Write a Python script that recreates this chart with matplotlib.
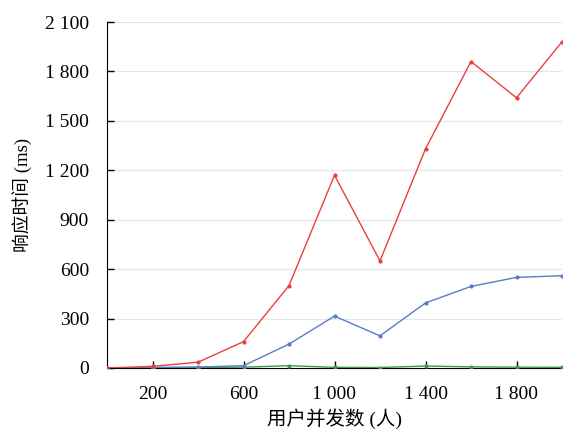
import matplotlib
matplotlib.use("Agg")
import matplotlib.pyplot as plt
from matplotlib.ticker import FuncFormatter

plt.rcParams['font.family'] = ['Liberation Serif', 'Noto Sans CJK SC']

users = [0, 200, 400, 600, 800, 1000, 1200, 1400, 1600, 1800, 2000]
red_ms = [0, 10, 35, 160, 500, 1170, 650, 1330, 1860, 1640, 1980]
blue_ms = [0, 3, 6, 14, 145, 315, 195, 395, 495, 550, 560]
green_ms = [0, 2, 3, 5, 14, 4, 3, 12, 7, 5, 4]

x_ticks = [200, 600, 1000, 1400, 1800]
y_ticks = [0, 300, 600, 900, 1200, 1500, 1800, 2100]


def fmt(v, pos):
    return f"{int(v):,}".replace(",", " ")


fig = plt.figure(figsize=(5.65, 4.34), dpi=100)
ax = fig.add_axes([107 / 565, 1 - 368 / 434, 455 / 565, 346 / 434])

ax.plot(users, green_ms, color='#3f9a47', lw=1.0, marker='o', ms=2, zorder=3)
ax.plot(users, blue_ms, color='#5a7bc8', lw=1.0, marker='o', ms=2, zorder=3)
ax.plot(users, red_ms, color='#e8413c', lw=1.0, marker='o', ms=2, zorder=3)

ax.set_xlim(0, 2000)
ax.set_ylim(0, 2100)
ax.set_xticks(x_ticks)
ax.set_yticks(y_ticks)
ax.xaxis.set_major_formatter(FuncFormatter(fmt))
ax.yaxis.set_major_formatter(FuncFormatter(fmt))
ax.grid(axis='y', color='#e3e6ea', lw=0.8)
ax.set_axisbelow(True)
ax.tick_params(direction='in', labelsize=14, length=5, width=1)
ax.tick_params(axis='x', pad=13)
ax.tick_params(axis='y', pad=13)
ax.spines['top'].set_visible(False)
ax.spines['right'].set_visible(False)

ax.set_xlabel('用户并发数 (人)', fontsize=14, labelpad=4)
ax.set_ylabel('响应时间 (ms)', fontsize=13.5, labelpad=9)

fig.savefig('out.png', dpi=100)
